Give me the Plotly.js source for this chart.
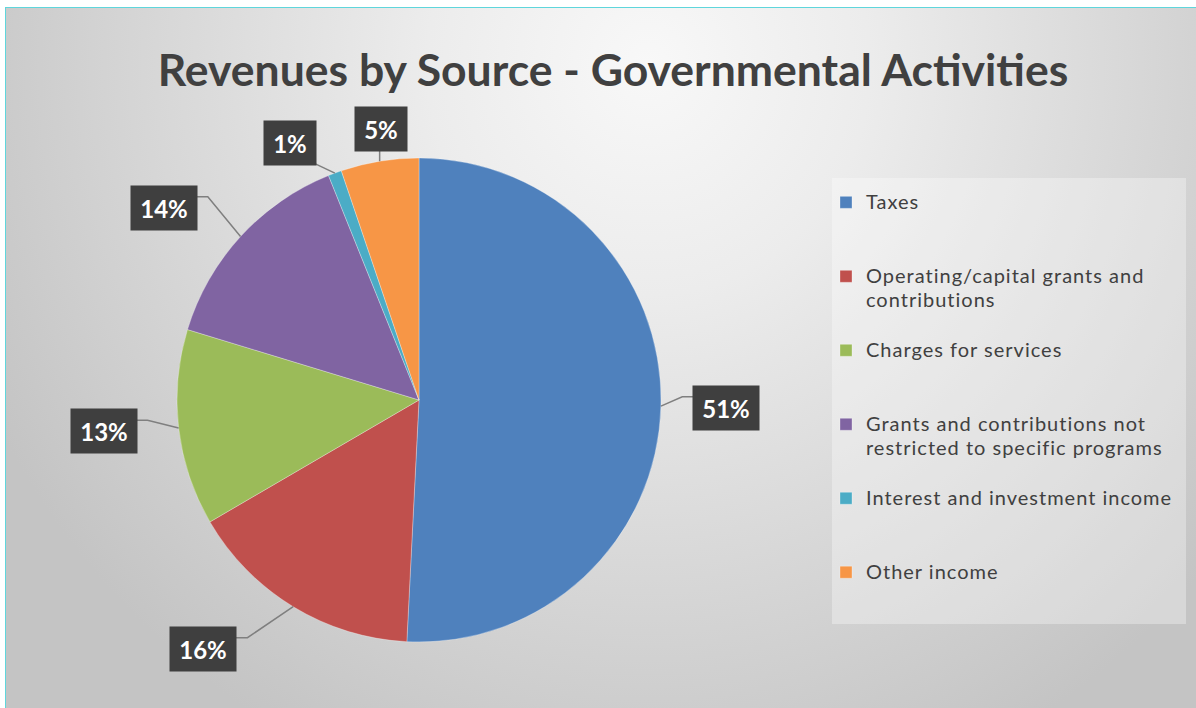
<!DOCTYPE html>
<html><head><meta charset="utf-8">
<script src="https://cdn.plot.ly/plotly-3.0.1.min.js"></script>
<style>
html,body{margin:0;padding:0;background:#fff;}
#wrap{position:relative;width:1196px;height:708px;overflow:hidden;}
#bg{position:absolute;left:5px;top:7px;right:0;bottom:0;
  border-left:1px solid #5fd6dc;border-top:1px solid #5fd6dc;
  background:radial-gradient(ellipse 62% 110% at 54% 8%, #f8f8f8 0%, #ececec 30%, #d8d8d8 65%, #c4c4c4 100%);}
#chart{position:absolute;left:0;top:0;width:1196px;height:708px;}
</style></head>
<body><div id="wrap"><div id="bg"></div><div id="chart"></div></div>
<script>
// ---- data ----
const categories = [
  "Taxes",
  "Operating/capital grants and contributions",
  "Charges for services",
  "Grants and contributions not restricted to specific programs",
  "Interest and investment income",
  "Other income"
];
const values = [50.8, 15.8, 13.1, 14.2, 0.9, 5.2];
const colors = ["#4F81BD", "#C0504D", "#9BBB59", "#8064A2", "#4BACC6", "#F79646"];
const titleText = "Revenues by Source - Governmental Activities";

// ---- layout constants ----
const W = 1196, H = 708;
const CX = 419, CY = 400, R = 242;
const FONT = "Lato, 'Open Sans', sans-serif";
// label placement: [angular offset in degrees from slice middle, radius factor]
const labelPlace = [[0, 1.27], [9.6, 1.36], [1, 1.31], [-5.5, 1.32], [-6.3, 1.19], [1.4, 1.13]];

function wrap(s, maxc) {
  const words = s.split(" "); const lines = []; let cur = "";
  words.forEach(w => {
    if (cur && (cur + " " + w).length > maxc) { lines.push(cur); cur = w; }
    else cur = cur ? cur + " " + w : w;
  });
  if (cur) lines.push(cur);
  return lines;
}
const legendLabels = categories.map(c => {
  const lines = wrap(c, 31);
  while (lines.length < 3) lines.push("\u00a0");
  return lines.map(l => '<span style="font-size:20px;letter-spacing:1px">' + l + '</span>').join("<br>");
});

const total = values.reduce((a, b) => a + b, 0);
const shapes = [];
const annotations = [];
// legend panel
shapes.push({type: "rect", xref: "paper", yref: "paper", layer: "below",
  x0: 832 / W, x1: 1186 / W, y0: 1 - 624 / H, y1: 1 - 178 / H,
  fillcolor: "rgba(255,255,255,0.32)", line: {width: 0}});

let cum = 0;
values.forEach((v, i) => {
  const mid = (cum + v / 2) / total * 360; cum += v;
  const midR = mid * Math.PI / 180;
  const th = (mid + labelPlace[i][0]) * Math.PI / 180;
  const k = labelPlace[i][1];
  const lx = CX + k * R * Math.sin(th), ly = CY - k * R * Math.cos(th);
  const ex = CX + R * Math.sin(midR), ey = CY - R * Math.cos(midR);
  const txt = Math.round(v / total * 100) + "%";
  const bw = 22 + 14 * txt.length, bh = 42;
  let path;
  const P = (x, y) => (x / W).toFixed(5) + "," + (1 - y / H).toFixed(5);
  if (Math.cos(midR) > 0.85) {
    const x2 = Math.min(Math.max(ex, lx - bw / 2), lx + bw / 2);
    path = "M" + P(ex, ey) + " L" + P(x2, ly + bh / 2);
  } else {
    const side = Math.sign(lx - ex);
    const bx = lx - side * bw / 2, yy = ly - bh / 2 + 10;
    path = "M" + P(ex, ey) + " L" + P(bx - side * 12, yy) + " L" + P(bx, yy);
  }
  shapes.push({type: "path", xref: "paper", yref: "paper", path: path,
    line: {color: "#7f7f7f", width: 1.5}});
  annotations.push({xref: "paper", yref: "paper", x: lx / W, y: 1 - ly / H,
    xanchor: "center", yanchor: "middle", showarrow: false,
    text: "<b>" + txt + "</b>", width: bw, height: bh, bgcolor: "#3f3f3f",
    font: {family: FONT, size: 24, color: "#ffffff"}});
});

const trace = {
  type: "pie", labels: legendLabels, values: values, sort: false,
  direction: "clockwise", rotation: 0, textinfo: "none",
  hovertext: categories, hoverinfo: "text+percent",
  marker: {colors: colors, line: {color: "rgba(255,255,255,0.6)", width: 0.5}},
  domain: {x: [(CX - R) / W, (CX + R) / W], y: [1 - (CY + R) / H, 1 - (CY - R) / H]}
};

const layout = {
  width: W, height: H,
  margin: {l: 0, r: 0, t: 0, b: 0},
  paper_bgcolor: "rgba(0,0,0,0)", plot_bgcolor: "rgba(0,0,0,0)",
  title: {text: "<b>" + titleText + "</b>", x: 613 / W, xanchor: "center",
    y: 1 - 70 / H, yanchor: "middle", yref: "paper",
    font: {family: FONT, size: 44.5, color: "#404040"}},
  showlegend: true,
  legend: {x: 826 / W, xanchor: "left", y: 1 - 184 / H, yanchor: "top",
    bgcolor: "rgba(0,0,0,0)", valign: "top", traceorder: "normal",
    font: {family: FONT, size: 18.2, color: "#404040"}},
  shapes: shapes, annotations: annotations
};
Plotly.newPlot("chart", [trace], layout, {displayModeBar: false, staticPlot: true});
</script></body></html>
